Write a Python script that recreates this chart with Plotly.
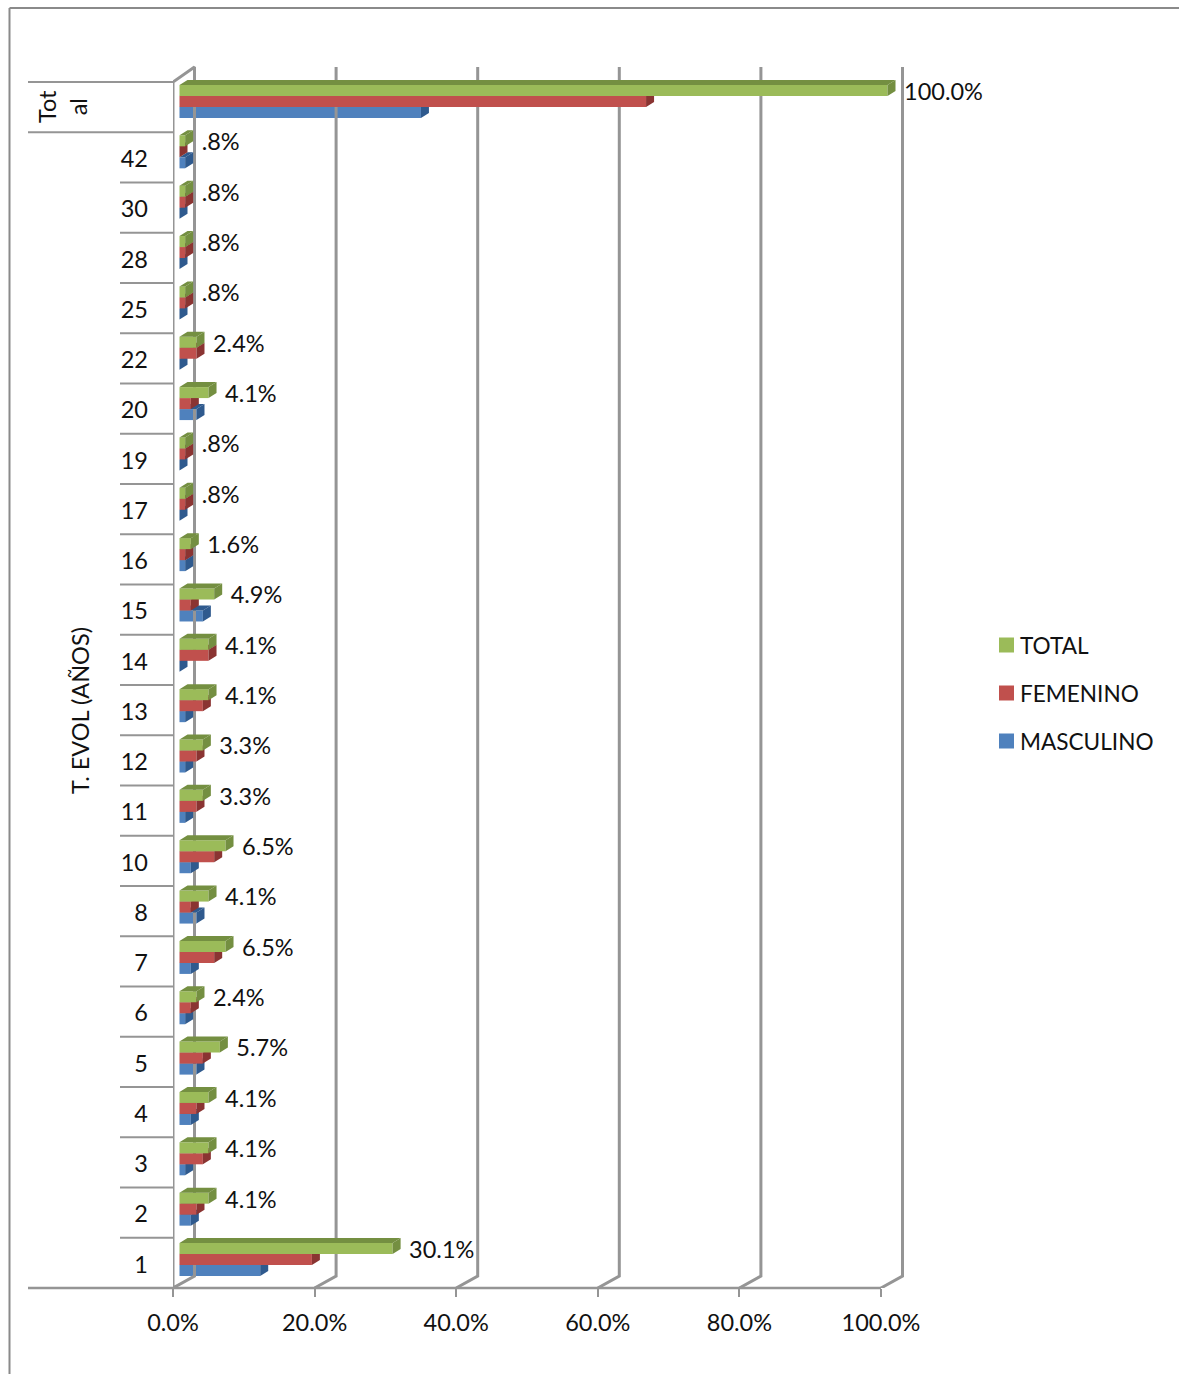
import plotly.graph_objects as go

# Categories listed from the bottom of the chart to the top
categories = ["1", "2", "3", "4", "5", "6", "7", "8", "10", "11", "12", "13",
              "14", "15", "16", "17", "19", "20", "22", "25", "28", "30", "42", "Total"]
total = [30.1, 4.1, 4.1, 4.1, 5.7, 2.4, 6.5, 4.1, 6.5, 3.3, 3.3, 4.1,
         4.1, 4.9, 1.6, 0.8, 0.8, 4.1, 2.4, 0.8, 0.8, 0.8, 0.8, 100.0]
femenino = [18.7, 2.4, 3.3, 2.4, 3.3, 1.6, 4.9, 1.6, 4.9, 2.4, 2.4, 3.3,
            4.1, 1.6, 0.8, 0.8, 0.8, 1.6, 2.4, 0.8, 0.8, 0.8, 0.0, 65.9]
masculino = [11.4, 1.6, 0.8, 1.6, 2.4, 0.8, 1.6, 2.4, 1.6, 0.8, 0.8, 0.8,
             0.0, 3.3, 0.8, 0.0, 0.0, 2.4, 0.0, 0.0, 0.0, 0.0, 0.8, 34.1]
x_ticks = [0, 20, 40, 60, 80, 100]

FONT = "Lato"
FONT_SIZE = 23.5
TEXT = "#111111"
GRID = "#959595"
FRAME = "#8A8A8A"
WIDTH, HEIGHT = 1179, 1374

# The plot area runs past the 0-100 box so the walls stay inside it
AREA_L, AREA_R, AREA_T, AREA_B = 173, 1179, 50, 1288
PX_X = (881.0 - AREA_L) / 100
PX_Y = (1288.0 - 82.0) / len(categories)
X_MAX = (AREA_R - AREA_L) / PX_X
Y_MAX = (AREA_B - AREA_T) / PX_Y

# Pseudo-3D depth of the walls and of the bars
WALL_DX, FLOOR_DY, TOP_DY = 21.5 / PX_X, 12 / PX_Y, 15 / PX_Y
BAR_DX, BAR_DY = 8 / PX_X, 5 / PX_Y
BAR_BASE = 6.5 / PX_X
BAR_H = 11 / PX_Y
GROUP_ORIGIN, GROUP_STEP = 0.567, 1.00196


def group_center(i):
    return GROUP_ORIGIN + GROUP_STEP * i


def paper_x(px):
    return (px - AREA_L) / (AREA_R - AREA_L)


def paper_y(py):
    return (AREA_B - py) / (AREA_B - AREA_T)


def polyline(segments):
    xs, ys = [], []
    for seg in segments:
        xs += [p[0] for p in seg] + [None]
        ys += [p[1] for p in seg] + [None]
    return xs, ys


fig = go.Figure()

# Walls and floor of the chart box
n = len(categories)
wall = [[(0, 0), (0, n), (WALL_DX, n + TOP_DY), (WALL_DX, FLOOR_DY), (0, 0)]]
for t in x_ticks[1:]:
    wall.append([(t, 0), (t + WALL_DX, FLOOR_DY), (t + WALL_DX, n + TOP_DY)])
wx, wy = polyline(wall)
fig.add_trace(go.Scatter(x=wx, y=wy, mode="lines", line=dict(color=GRID, width=3),
                         hoverinfo="skip", showlegend=False))

series = [
    ("MASCULINO", masculino, "#4F81BD", "#2F5A8E", "", -1),
    ("FEMENINO", femenino, "#C0504D", "#8A3432", "2", 0),
    ("TOTAL", total, "#9BBB59", "#748F41", "3", 1),
]

for name, values, front, shade, axis, slot in series:
    xref, yref = "x" + axis, "y" + axis
    centers = [group_center(i) + slot * BAR_H for i in range(n)]
    top_faces, side_faces = [], []
    for v, c in zip(values, centers):
        x1 = BAR_BASE + v
        lo, hi = c - BAR_H / 2, c + BAR_H / 2
        top_faces.append([(BAR_BASE, hi), (BAR_BASE + BAR_DX, hi + BAR_DY),
                          (x1 + BAR_DX, hi + BAR_DY), (x1, hi), (BAR_BASE, hi)])
        side_faces.append([(x1, hi), (x1 + BAR_DX, hi + BAR_DY),
                           (x1 + BAR_DX, lo + BAR_DY), (x1, lo), (x1, hi)])
    for faces in (top_faces, side_faces):
        fx, fy = polyline(faces)
        fig.add_trace(go.Scatter(x=fx, y=fy, xaxis=xref, yaxis=yref, mode="lines",
                                 fill="toself", fillcolor=shade, line=dict(width=0),
                                 hoverinfo="skip", showlegend=False))
    fig.add_trace(go.Bar(x=values, y=centers, base=BAR_BASE, orientation="h", width=BAR_H,
                         name=name, xaxis=xref, yaxis=yref, showlegend=False,
                         marker=dict(color=front, line=dict(width=0))))

# Value labels beside the TOTAL bars
label_gap = 8.5 / PX_X
label_drop = 3.5 / PX_Y
fig.add_trace(go.Scatter(
    x=[BAR_BASE + v + BAR_DX + label_gap for v in total],
    y=[group_center(i) + BAR_H - label_drop for i in range(n)],
    xaxis="x3", yaxis="y3", mode="text", textposition="middle right",
    text=[f"{v:.1f}%".removeprefix("0") for v in total],
    textfont=dict(family=FONT, size=FONT_SIZE, color=TEXT),
    hoverinfo="skip", showlegend=False))

text_font = dict(family=FONT, size=FONT_SIZE, color=TEXT)


def paper_line(x0, y0, x1, y1, color, width):
    return dict(type="line", xref="paper", yref="paper", layer="below",
                x0=paper_x(x0), y0=paper_y(y0), x1=paper_x(x1), y1=paper_y(y1),
                line=dict(color=color, width=width))


shapes = [
    # Outer chart frame, open at the right and bottom
    paper_line(9.5, 8, 1179, 8, FRAME, 2),
    paper_line(9.5, 8, 9.5, 1374, FRAME, 2),
    # Floor edge reaching under the category labels
    paper_line(28, 1288, 881, 1288, GRID, 2.6),
    # Top rule of the Total row and the row below it
    paper_line(28, 82, 173, 82, GRID, 1.8),
    paper_line(28, 1288 - (n - 1) * PX_Y, 173, 1288 - (n - 1) * PX_Y, GRID, 1.8),
]
# Separators between the category labels
shapes += [paper_line(120, 1288 - k * PX_Y, 173, 1288 - k * PX_Y, GRID, 1.8) for k in range(1, n - 1)]

annotations = [
    dict(text="T. EVOL (AÑOS)", textangle=-90, xref="paper", yref="paper", showarrow=False,
         x=paper_x(80), y=paper_y(711), xanchor="center", yanchor="middle", font=text_font),
    dict(text="Tot<br>al", textangle=-90, xref="paper", yref="paper", showarrow=False,
         x=paper_x(62), y=paper_y(107), xanchor="center", yanchor="middle", align="center",
         font=text_font),
]

# Legend key at the right of the chart
for (name, _, front, _, _, _), key_y in zip(reversed(series), (645, 693, 741)):
    shapes.append(dict(type="rect", xref="paper", yref="paper", layer="above",
                       x0=paper_x(999), x1=paper_x(1014), y0=paper_y(key_y + 7.5), y1=paper_y(key_y - 7.5),
                       fillcolor=front, line=dict(width=0)))
    annotations.append(dict(text=name, xref="paper", yref="paper", showarrow=False,
                            x=paper_x(1018), y=paper_y(key_y), xanchor="left", yanchor="middle",
                            font=dict(family=FONT, size=22.6, color=TEXT)))

hidden = dict(visible=False)
fig.update_layout(
    width=WIDTH, height=HEIGHT, barmode="overlay", showlegend=False,
    plot_bgcolor="white", paper_bgcolor="white",
    margin=dict(l=AREA_L, r=WIDTH - AREA_R, t=AREA_T, b=HEIGHT - AREA_B, pad=0),
    font=text_font,
    xaxis=dict(range=[0, X_MAX], tickvals=x_ticks, ticktext=[f"{t:.1f}%" for t in x_ticks],
               showgrid=False, zeroline=False, ticks="outside", ticklen=8, tickwidth=2.4,
               tickcolor=GRID, ticklabelstandoff=6),
    yaxis=dict(range=[0, Y_MAX], tickvals=[i + 0.47 for i in range(n - 1)], ticktext=categories[:-1],
               showgrid=False, zeroline=False, ticks="", ticklabelstandoff=24),
    xaxis2=dict(range=[0, X_MAX], overlaying="x", anchor="y2", **hidden),
    yaxis2=dict(range=[0, Y_MAX], overlaying="y", anchor="x2", **hidden),
    xaxis3=dict(range=[0, X_MAX], overlaying="x", anchor="y3", **hidden),
    yaxis3=dict(range=[0, Y_MAX], overlaying="y", anchor="x3", **hidden),
    annotations=annotations,
    shapes=shapes,
)

fig.write_html("out.html")
